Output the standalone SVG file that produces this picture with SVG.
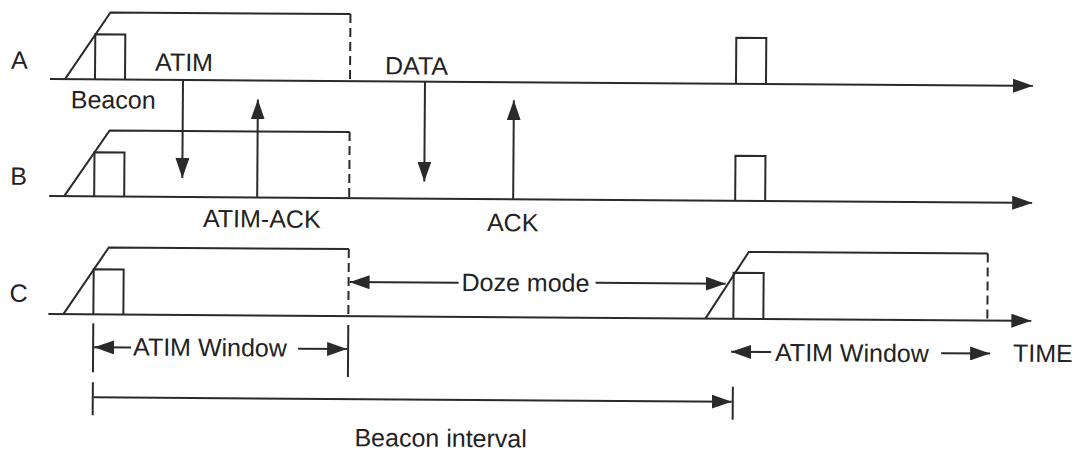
<svg xmlns="http://www.w3.org/2000/svg" width="1078" height="453" viewBox="0 0 1078 453">
<style>
.ln{stroke:#2a2a2a;stroke-width:2;fill:none}
.ds{stroke:#2a2a2a;stroke-width:2;fill:none;stroke-dasharray:9,5}
.t{font-family:"Liberation Sans",Arial,sans-serif;font-size:25px;fill:#222}
</style>
<defs>
<marker id="ah" viewBox="0 0 20 14" refX="20" refY="7" markerWidth="20" markerHeight="14" markerUnits="userSpaceOnUse" orient="auto-start-reverse">
<path d="M0,0 L20,7 L0,14 Z" fill="#2a2a2a"/>
</marker>
</defs>
<rect width="1078" height="453" fill="#fff"/>
<g transform="rotate(0.4 50 79)">
<g id="rowA">
<text class="t" x="11" y="69">A</text>
<line class="ln" x1="50" y1="79" x2="1033" y2="79" marker-end="url(#ah)"/>
<polyline class="ln" points="65,79 110,12 350,12"/>
<line class="ds" x1="350" y1="12" x2="350" y2="79"/>
<polyline class="ln" points="95,79 95,34 125,34 125,79"/>
<polyline class="ln" points="736,79 736,33 766,33 766,79"/>
<text class="t" x="155" y="70">ATIM</text>
<text class="t" x="71" y="108">Beacon</text>
<text class="t" x="385" y="72">DATA</text>
</g>
<g id="rowB">
<text class="t" x="11" y="185">B</text>
<line class="ln" x1="50" y1="196" x2="1033" y2="196" marker-end="url(#ah)"/>
<polyline class="ln" points="65,196 110,130 350,130"/>
<line class="ds" x1="350" y1="130" x2="350" y2="196"/>
<polyline class="ln" points="95,196 95,152 125,152 125,196"/>
<polyline class="ln" points="736,196 736,151 766,151 766,196"/>
<text class="t" x="204" y="226">ATIM-ACK</text>
<text class="t" x="488" y="228">ACK</text>
</g>
<g id="rowC">
<text class="t" x="11" y="302">C</text>
<line class="ln" x1="50" y1="314" x2="1033" y2="314" marker-end="url(#ah)"/>
<polyline class="ln" points="65,314 110,247 350,247"/>
<line class="ds" x1="350" y1="247" x2="350" y2="314"/>
<polyline class="ln" points="95,314 95,269 125,269 125,314"/>
<polyline class="ln" points="707,314 750,247 989,247"/>
<line class="ds" x1="989" y1="247" x2="989" y2="314"/>
<polyline class="ln" points="735,314 735,268 765,268 765,314"/>
<text class="t" x="463" y="288">Doze mode</text>
<text class="t" x="135" y="355">ATIM Window</text>
<text class="t" x="777" y="356">ATIM Window</text>
<text class="t" x="1015" y="355">TIME</text>
<text class="t" x="357" y="444">Beacon interval</text>
</g>
<g id="connectors">
<line class="ln" x1="183" y1="79" x2="183" y2="177" marker-end="url(#ah)"/>
<line class="ln" x1="258" y1="196" x2="258" y2="98" marker-end="url(#ah)"/>
<line class="ln" x1="425" y1="79" x2="425" y2="179" marker-end="url(#ah)"/>
<line class="ln" x1="514" y1="196" x2="514" y2="97" marker-end="url(#ah)"/>
<line class="ln" x1="460" y1="280" x2="351" y2="280" marker-end="url(#ah)"/>
<line class="ln" x1="597" y1="279" x2="727" y2="279" marker-end="url(#ah)"/>
<line class="ln" x1="95" y1="323" x2="95" y2="372"/>
<line class="ln" x1="350" y1="323" x2="350" y2="375"/>
<line class="ln" x1="133" y1="347" x2="96" y2="347" marker-end="url(#ah)"/>
<line class="ln" x1="300" y1="347" x2="349" y2="347" marker-end="url(#ah)"/>
<line class="ln" x1="95" y1="382" x2="95" y2="415"/>
<line class="ln" x1="735" y1="382" x2="735" y2="415"/>
<line class="ln" x1="96" y1="397" x2="734" y2="397" marker-end="url(#ah)"/>
<line class="ln" x1="773" y1="347" x2="733" y2="347" marker-end="url(#ah)"/>
<line class="ln" x1="943" y1="347" x2="992" y2="347" marker-end="url(#ah)"/>
</g>
</g>
</svg>
